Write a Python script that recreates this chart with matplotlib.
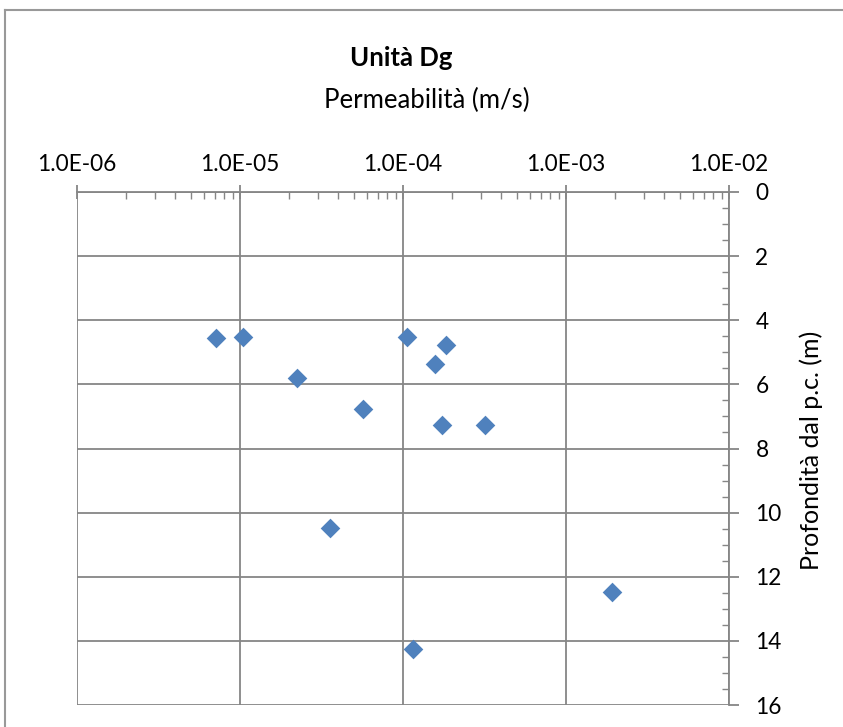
import matplotlib
matplotlib.use("Agg")
import matplotlib.pyplot as plt
from matplotlib.ticker import LogLocator, FixedLocator, MultipleLocator, FuncFormatter, NullFormatter
from matplotlib.lines import Line2D

plt.rcParams['font.family'] = ['Lato', 'DejaVu Sans']

title = "Unità Dg"
x_label = "Permeabilità (m/s)"
y_label = "Profondità dal p.c. (m)"

permeability = [7.1e-6, 1.04e-5, 1.06e-4, 1.84e-4, 1.57e-4, 2.24e-5,
                5.68e-5, 1.73e-4, 3.18e-4, 3.57e-5, 1.91e-3, 1.15e-4]
depth = [4.55, 4.52, 4.52, 4.77, 5.37, 5.80, 6.77, 7.27, 7.27, 10.48, 12.48, 14.25]

x_ticks = [1e-6, 1e-5, 1e-4, 1e-3, 1e-2]
y_ticks = [0, 2, 4, 6, 8, 10, 12, 14, 16]

W, H = 843, 727
fig = plt.figure(figsize=(W / 100, H / 100), dpi=100)
ax = fig.add_axes([77 / W, 1 - 705 / H, (729 - 77) / W, (705 - 192) / H])

gray = '#868686'
ax.scatter(permeability, depth, marker='D', s=10 ** 2, color='#4F81BD', zorder=3, linewidths=0)

ax.set_xscale('log')
ax.set_xlim(1e-6, 1e-2)
ax.set_ylim(16, 0)

ax.xaxis.set_major_locator(FixedLocator(x_ticks))
ax.xaxis.set_minor_locator(LogLocator(base=10, subs=range(2, 10), numticks=20))
ax.xaxis.set_major_formatter(FuncFormatter(lambda v, p: "%.1E" % v))
ax.xaxis.set_minor_formatter(NullFormatter())
ax.yaxis.set_major_locator(FixedLocator(y_ticks))
ax.yaxis.set_minor_locator(MultipleLocator(0.5))

ax.xaxis.tick_top()
ax.yaxis.tick_right()

ax.grid(True, which='major', color=gray, linewidth=1.3)
for s in ['left', 'bottom']:
    ax.spines[s].set_visible(False)
for s in ['top', 'right']:
    ax.spines[s].set_color(gray)
    ax.spines[s].set_linewidth(1.3)

ax.tick_params(axis='x', which='major', direction='inout', length=10, width=1.3, color=gray,
               labelsize=16.3, pad=7, top=True, bottom=False)
ax.tick_params(axis='x', which='minor', direction='in', length=5, width=1.0, color=gray,
               top=True, bottom=False)
ax.tick_params(axis='y', which='major', direction='out', length=7, width=1.3, color=gray,
               labelsize=16.3, pad=12, right=True, left=False)
ax.tick_params(axis='y', which='minor', direction='in', length=5, width=1.0, color=gray,
               right=True, left=False)

fig.text(401 / W, 1 - 58 / H, title, ha='center', va='center', fontsize=18.5, fontweight='bold')
fig.text(427 / W, 1 - 100 / H, x_label, ha='center', va='center', fontsize=18.5)
fig.text(811 / W, 1 - 450 / H, y_label, ha='center', va='center', fontsize=18, rotation=90)

# chart frame
fig.add_artist(Line2D([5 / W, 5 / W], [0, 1 - 10 / H], transform=fig.transFigure, color='#999999', lw=1.5))
fig.add_artist(Line2D([5 / W, 1], [1 - 10 / H, 1 - 10 / H], transform=fig.transFigure, color='#999999', lw=1.5))

fig.savefig('out.png', dpi=100)
